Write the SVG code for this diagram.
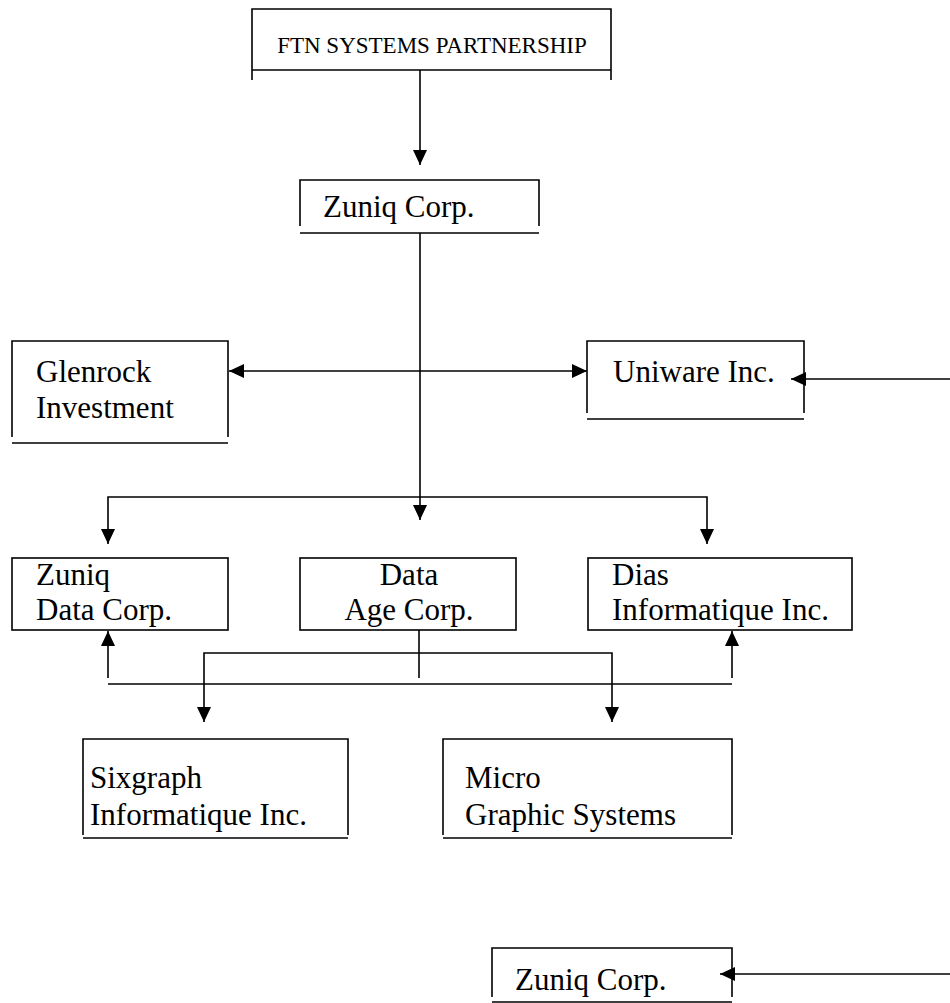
<svg xmlns="http://www.w3.org/2000/svg" width="950" height="1003" viewBox="0 0 950 1003">
<style>
.b{fill:none;stroke:#000;stroke-width:1.6}
.c{fill:none;stroke:#000;stroke-width:1.6}
.t{font-family:"Liberation Serif","Times New Roman",serif;font-size:31px;fill:#000}
.s{font-family:"Liberation Serif","Times New Roman",serif;font-size:23px;fill:#000}
</style>
<defs>
<marker id="ah" markerUnits="userSpaceOnUse" markerWidth="15" markerHeight="14" refX="15" refY="7" orient="auto-start-reverse" viewBox="0 0 15 14">
<path d="M0,0 L15,7 L0,14 z" fill="#000"/>
</marker>
</defs>
<rect width="950" height="1003" fill="#fff"/>
<g id="connectors">
<path class="c" d="M420,70 V165" marker-end="url(#ah)"/>
<path class="c" d="M420,233 V520" marker-end="url(#ah)"/>
<path class="c" d="M229,371 H587" marker-start="url(#ah)" marker-end="url(#ah)"/>
<path class="c" d="M950,379 H791" marker-end="url(#ah)"/>
<path class="c" d="M108,544 V497 H707 V544" marker-start="url(#ah)" marker-end="url(#ah)"/>
<path class="c" d="M419,630 V678"/>
<path class="c" d="M204,722 V653 H612 V722" marker-start="url(#ah)" marker-end="url(#ah)"/>
<path class="c" d="M108,678 V631" marker-end="url(#ah)"/>
<path class="c" d="M732,678 V631" marker-end="url(#ah)"/>
<path class="c" d="M108,684 H732"/>
<path class="c" d="M950,974 H720" marker-end="url(#ah)"/>
</g>
<g id="ftn">
<path class="b" d="M252,80 V9 H611 V80 M252,70 H611"/>
<text class="s" x="432" y="53" text-anchor="middle">FTN SYSTEMS PARTNERSHIP</text>
</g>
<g id="zuniq-top">
<path class="b" d="M300,226 V180 H539 V226 M300,233 H539"/>
<text class="t" x="323" y="217">Zuniq Corp.</text>
</g>
<g id="glenrock">
<path class="b" d="M12,437 V341 H228 V437 M12,443 H228"/>
<text class="t" x="36" y="382">Glenrock</text>
<text class="t" x="36" y="418">Investment</text>
</g>
<g id="uniware">
<path class="b" d="M587,413 V341 H804 V413 M587,419 H804"/>
<text class="t" x="613" y="382">Uniware Inc.</text>
</g>
<g id="zuniq-data">
<rect class="b" x="12" y="558" width="216" height="72"/>
<text class="t" x="36" y="585">Zuniq</text>
<text class="t" x="36" y="620">Data Corp.</text>
</g>
<g id="data-age">
<rect class="b" x="300" y="558" width="216" height="72"/>
<text class="t" x="409" y="585" text-anchor="middle">Data</text>
<text class="t" x="409" y="620" text-anchor="middle">Age Corp.</text>
</g>
<g id="dias">
<rect class="b" x="588" y="558" width="264" height="72"/>
<text class="t" x="612" y="585">Dias</text>
<text class="t" x="612" y="620">Informatique Inc.</text>
</g>
<g id="sixgraph">
<path class="b" d="M83,835 V739 H348 V835 M83,838 H348"/>
<text class="t" x="90" y="788">Sixgraph</text>
<text class="t" x="90" y="825">Informatique Inc.</text>
</g>
<g id="micro">
<path class="b" d="M443,835 V739 H732 V835 M443,838 H732"/>
<text class="t" x="465" y="788">Micro</text>
<text class="t" x="465" y="825">Graphic Systems</text>
</g>
<g id="zuniq-bottom">
<path class="b" d="M492,997 V948 H732 V997 M492,1002 H732"/>
<text class="t" x="515" y="990">Zuniq Corp.</text>
</g>
</svg>
